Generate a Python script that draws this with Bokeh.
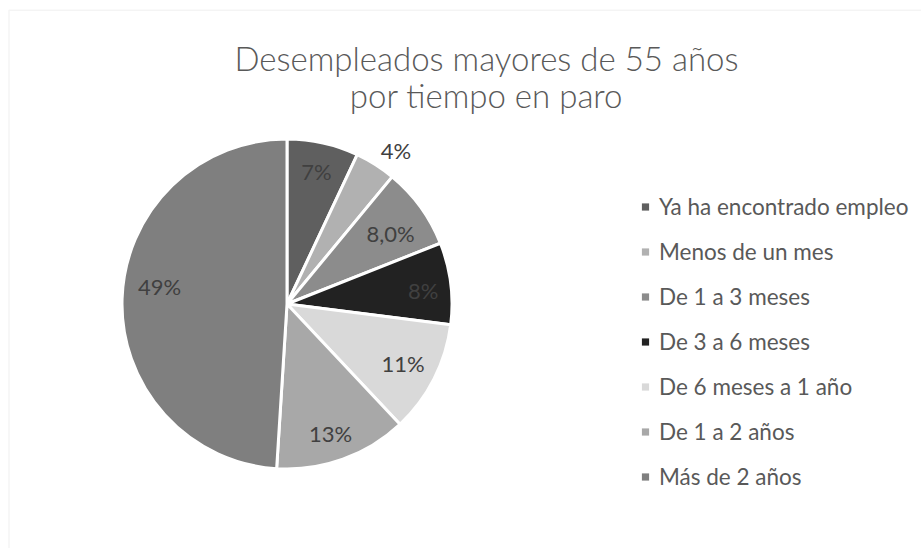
import numpy as np
from bokeh.plotting import figure
from bokeh.models import Range1d, ColumnDataSource, Legend, LegendItem, Label, BoxAnnotation
from bokeh.core.properties import value
from bokeh.embed import file_html
from bokeh.resources import INLINE

# ---- data ----
categories = ["Ya ha encontrado empleo", "Menos de un mes", "De 1 a 3 meses",
              "De 3 a 6 meses", "De 6 meses a 1 año", "De 1 a 2 años", "Más de 2 años"]
values = [7.0, 4.0, 8.0, 8.0, 11.0, 13.0, 49.0]
value_labels = ["7%", "4%", "8,0%", "8%", "11%", "13%", "49%"]
colors = ["#5f5f5f", "#b1b1b1", "#8c8c8c", "#222222", "#d9d9d9", "#a8a8a8", "#7f7f7f"]
title_lines = ["Desempleados mayores de 55 años", "por tiempo en paro"]

# ---- style / layout ----
W, H = 921, 548
cx, cy, R = 286.5, 244.5, 165.0
label_radius = [0.82, 1.14, 0.76, 0.83, 0.79, 0.83, 0.78]
label_angle_nudge = [0.0, 3.0, 1.7, 1.6, 0.0, 1.2, 6.0]

vals = np.array(values)
frac = vals / vals.sum()
cum = np.concatenate([[0.0], np.cumsum(frac)])
start_theta = cum[:-1] * 2 * np.pi       # clockwise from top
end_theta = cum[1:] * 2 * np.pi
mid_theta = (start_theta + end_theta) / 2 + np.radians(label_angle_nudge)

src = ColumnDataSource(dict(
    cat=categories, color=colors,
    start=np.pi / 2 - start_theta, end=np.pi / 2 - end_theta,
    x=[cx] * len(values), y=[cy] * len(values),
    lx=cx + R * np.array(label_radius) * np.sin(mid_theta),
    ly=cy + R * np.array(label_radius) * np.cos(mid_theta),
    lab=value_labels,
    nx=[np.nan] * len(values), ny=[np.nan] * len(values),
))

p = figure(width=W, height=H, x_range=Range1d(0, W), y_range=Range1d(0, H),
           x_axis_type=None, y_axis_type=None, toolbar_location=None,
           output_backend="svg", min_border=0)
p.outline_line_color = None
p.xgrid.visible = False
p.ygrid.visible = False
p.background_fill_color = "white"
p.border_fill_color = "white"

# chart border (only left/top visible in crop)
p.add_layout(BoxAnnotation(left=8.5, right=3000, top=H - 9.75, bottom=-3000,
                           fill_alpha=0, line_color="#d9d9d9", line_width=1.5))

p.wedge(x="x", y="y", radius=R, start_angle="start", end_angle="end",
        direction="clock", fill_color="color", line_color="white",
        line_width=3, source=src)

p.text(x="lx", y="ly", text="lab", source=src, text_align="center",
       text_baseline="middle", text_font=value("Lato"),
       text_font_size="22px", text_color="#404040")

leg_r = p.scatter(x="nx", y="ny", marker="square", fill_color="color",
                  line_color=None, source=src)
items = [LegendItem(label=c, renderers=[leg_r], index=i) for i, c in enumerate(categories)]
legend = Legend(items=items, location=(636, 58), orientation="vertical",
                glyph_width=18, glyph_height=27, label_height=27, spacing=18,
                padding=0, margin=0, label_standoff=5,
                border_line_color=None, background_fill_alpha=0,
                label_text_font="Lato", label_text_font_size="22.5px",
                label_text_color="#595959", label_text_baseline="middle")
p.add_layout(legend)

for txt, ty in zip(title_lines, [491, 454]):
    p.add_layout(Label(x=486, y=ty, text=txt, text_align="center",
                       text_baseline="middle", text_font="Lato Light",
                       text_font_size="33px", text_color="#595959"))

open("out.html", "w").write(file_html(p, INLINE))
